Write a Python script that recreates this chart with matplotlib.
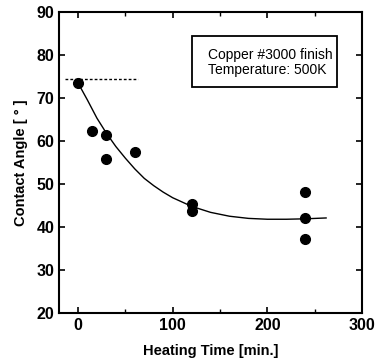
import numpy as np
import matplotlib.pyplot as plt
from matplotlib.patches import Rectangle

plt.rcParams['font.family'] = ['Liberation Sans', 'DejaVu Sans']

# measured points
t_data = [0, 15, 30, 30, 60, 120, 120, 240, 240, 240]
angle_data = [73.5, 62.2, 61.3, 55.7, 57.4, 45.3, 43.7, 48.2, 42.0, 37.1]

# fitted curve
t_fit = [0, 10, 20, 30, 40, 50, 60, 70, 80, 90, 100, 120, 140, 160, 180, 200, 220, 240, 262]
angle_fit = [73.5, 69.5, 65.3, 61.8, 58.7, 56.0, 53.5, 51.3, 49.6, 48.1, 46.8, 44.8,
             43.4, 42.5, 42.0, 41.8, 41.8, 41.9, 42.1]

# initial angle reference line
t_init = [-14, 63]
angle_init = [74.3, 74.3]

fig = plt.figure(figsize=(3.76, 3.59), dpi=100)
ax = fig.add_axes([0.157, 0.128, 0.806, 0.839])

ax.plot(t_init, angle_init, color='black', lw=1, ls=(0, (2, 1.5)))
ax.plot(t_fit, angle_fit, color='black', lw=1)
ax.plot(t_data, angle_data, 'o', color='black', ms=7)

ax.set_xlim(-20, 300)
ax.set_ylim(20, 90)
ax.set_xticks([0, 100, 200, 300])
ax.set_xticks([50, 150, 250], minor=True)
ax.set_yticks(range(20, 91, 10))
ax.tick_params(direction='in', top=True, right=True, length=4, width=1.2, labelsize=11.5)
ax.tick_params(which='minor', direction='in', top=True, length=3, width=1)
for lab in ax.get_xticklabels() + ax.get_yticklabels():
    lab.set_fontweight('bold')
for s in ax.spines.values():
    s.set_linewidth(1.5)

ax.set_xlabel('Heating Time [min.]', fontsize=10.5, fontweight='bold', labelpad=8)
ax.set_ylabel('Contact Angle [ ° ]', fontsize=10.5, fontweight='bold', labelpad=6)

# legend-like box
ax.add_patch(Rectangle((0.439, 0.751), 0.479, 0.169, transform=ax.transAxes,
                       fc='white', ec='black', lw=1.3, zorder=3))
ax.text(0.492, 0.844, 'Copper #3000 finish', transform=ax.transAxes,
        fontsize=10, va='baseline', ha='left', zorder=4)
ax.text(0.492, 0.794, 'Temperature: 500K', transform=ax.transAxes,
        fontsize=10, va='baseline', ha='left', zorder=4)

fig.savefig('out.png', dpi=100)
